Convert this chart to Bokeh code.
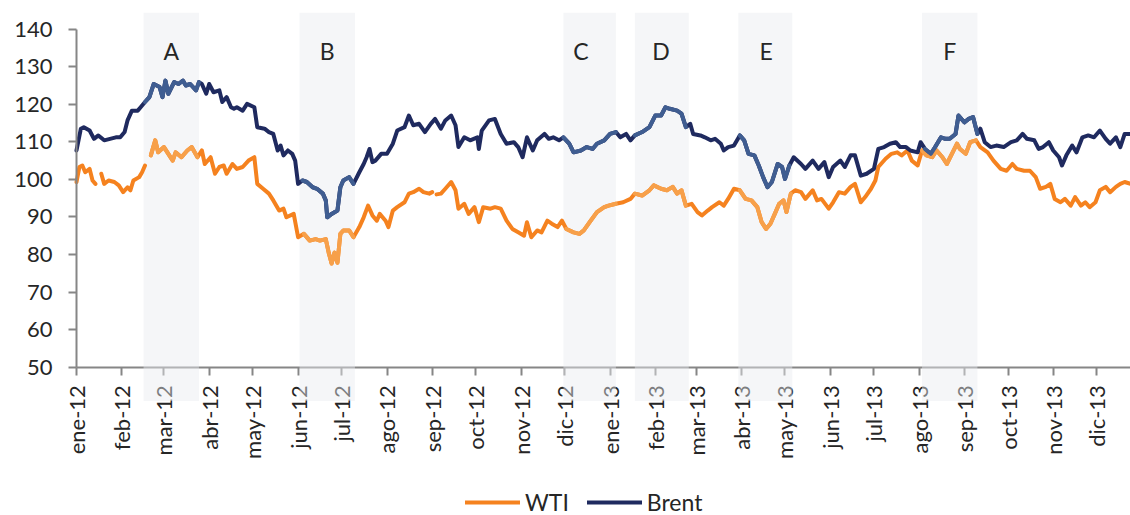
import math
import numpy as np
import pandas as pd
from bokeh.plotting import figure
from bokeh.models import (Range1d, FixedTicker, Legend, LegendItem, BoxAnnotation)
from bokeh.core.properties import value
from bokeh.embed import file_html
from bokeh.resources import INLINE

# ---------------- data ----------------
START = pd.Timestamp("2012-01-01")
END_DAY = 723  # last day shown (days after START)

# days after 2012-01-01 and WTI price (USD/bbl); nan = market holiday gap
wti_day = [
    0, 2, 4, 6, 9, 11, 13, 15, 17, 19,
    22, 26, 29, 32, 35, 37, 39, 43, 45, 47,
    49, 51, 54, 56, 60, 63, 66, 68, 72, 76,
    79, 83, 86, 88, 92, 95, 98, 101, 103, 107,
    110, 114, 118, 122, 124, 128, 132, 135, 139, 142,
    144, 149, 152, 156, 160, 164, 167, 171, 173, 175,
    177, 179, 181, 183, 187, 190, 194, 197, 200, 203,
    206, 208, 212, 214, 217, 220, 225, 228, 231, 235,
    238, 242, 244, 246, 247, 250, 253, 257, 260, 262,
    266, 269, 273, 276, 279, 284, 287, 291, 295, 299,
    303, 307, 309, 312, 316, 319, 323, 326, 330, 333,
    336, 341, 345, 348, 352, 357, 362, 365, 370, 375,
    380, 383, 388, 393, 396, 401, 405, 409, 412, 415,
    418, 422, 426, 429, 433, 436, 441, 444, 447, 451,
    455, 459, 463, 467, 470, 473, 476, 479, 482, 485,
    487, 490, 493, 497, 500, 505, 508, 511, 516, 519,
    523, 527, 531, 534, 538, 541, 545, 548, 550, 555,
    559, 563, 566, 570, 573, 577, 580, 583, 587, 590,
    594, 597, 601, 604, 606, 610, 613, 617, 620, 625,
    629, 634, 638, 642, 645, 650, 654, 658, 661, 665,
    668, 671, 675, 678, 682, 685, 689, 692, 695, 699,
    702, 706, 709, 713, 716, 719, 723,
]
nan = float("nan")
wti = [
    99.3, 103.3, 103.7, 101.9, 102.8, 99.7, 98.8, nan, 101.5, 98.8,
    99.7, 99.3, 98.4, 96.6, 97.9, 97.1, 99.7, 100.6, 101.9, 103.7,
    nan, 106.4, 110.4, 107.2, 108.6, 106.8, 105.0, 107.2, 105.9, 107.7,
    108.6, 105.9, 107.7, 104.1, 105.9, 101.5, 103.3, 103.7, 101.5, 104.1,
    102.8, 103.3, 105.0, 105.9, 98.8, 97.5, 96.2, 94.4, 91.7, 92.2,
    89.9, 90.8, 84.6, 85.5, 83.7, 84.1, 83.7, 84.1, 80.5, 77.6,
    80.5, 77.8, 85.5, 86.4, 86.4, 84.6, 87.3, 89.9, 93.0, 90.4,
    89.0, 90.8, 89.0, 87.3, 91.7, 92.6, 93.9, 96.2, 96.6, 97.5,
    96.6, 96.2, 96.6, nan, 96.0, 96.2, 97.5, 99.3, 97.1, 92.2,
    93.5, 90.8, 92.6, 88.6, 92.6, 92.2, 92.6, 92.2, 89.0, 86.8,
    85.9, 85.0, 88.6, 84.6, 86.4, 85.9, 89.0, 88.2, 87.3, 89.0,
    86.8, 85.9, 85.5, 86.4, 88.6, 91.3, 92.6, 93.0, 93.5, 93.9,
    94.8, 96.2, 95.7, 97.1, 98.4, 97.5, 97.1, 98.0, 96.2, 97.1,
    93.0, 93.5, 91.3, 90.4, 91.7, 92.6, 93.9, 93.0, 94.8, 97.5,
    97.1, 94.8, 94.4, 92.6, 88.6, 86.8, 88.2, 90.8, 93.5, 94.4,
    91.3, 96.2, 97.1, 96.6, 94.8, 97.1, 94.4, 94.8, 92.2, 93.9,
    96.6, 96.2, 98.0, 98.8, 93.9, 95.3, 97.5, 99.7, 103.3, 105.5,
    106.8, 107.2, 106.4, 107.7, 105.0, 103.7, 107.7, 106.4, 105.9, 107.7,
    105.9, 104.1, 107.2, 109.5, 108.1, 106.8, 109.9, 110.4, 108.6, 107.2,
    105.0, 102.8, 102.3, 104.1, 102.8, 102.3, 102.3, 100.6, 97.5, 98.0,
    98.8, 94.8, 93.9, 94.8, 93.0, 95.3, 93.0, 93.9, 92.6, 93.9,
    97.1, 98.0, 96.6, 98.0, 98.8, 99.3, 98.8,
]

brent_day = [
    0, 3, 5, 9, 12, 15, 19, 23, 27, 30,
    33, 35, 38, 42, 44, 47, 50, 53, 57, 59,
    61, 63, 67, 70, 73, 75, 78, 82, 84, 86,
    89, 91, 94, 98, 100, 103, 106, 108, 110, 114,
    117, 122, 124, 129, 132, 135, 138, 140, 142, 145,
    148, 150, 152, 155, 158, 162, 165, 169, 171, 172,
    175, 179, 181, 183, 187, 190, 194, 197, 199, 201,
    203, 205, 209, 213, 217, 220, 225, 228, 231, 235,
    239, 243, 246, 250, 253, 257, 260, 262, 266, 270,
    275, 276, 278, 283, 287, 291, 295, 300, 303, 306,
    309, 313, 316, 321, 324, 327, 331, 334, 338, 341,
    346, 350, 354, 357, 362, 366, 370, 373, 377, 380,
    383, 388, 393, 397, 401, 404, 407, 412, 415, 418,
    421, 423, 428, 431, 435, 438, 442, 444, 447, 451,
    455, 458, 461, 465, 468, 471, 474, 477, 481, 484,
    486, 489, 492, 497, 500, 505, 509, 513, 516, 519,
    524, 527, 531, 534, 538, 542, 547, 550, 554, 558,
    562, 565, 569, 572, 577, 579, 582, 586, 589, 593,
    596, 599, 603, 605, 609, 612, 615, 618, 620, 623,
    627, 631, 636, 641, 645, 649, 652, 657, 660, 663,
    667, 670, 674, 676, 679, 683, 686, 690, 694, 698,
    702, 706, 709, 713, 716, 719, 723,
]
brent = [
    107.7, 113.5, 113.9, 113.0, 110.8, 111.7, 110.4, 110.8, 111.2, 111.2,
    112.6, 115.7, 118.3, 118.3, 119.2, 120.6, 121.9, 125.4, 124.6, 121.9,
    126.3, 122.8, 125.9, 125.4, 126.3, 125.0, 125.4, 123.7, 125.9, 125.4,
    122.8, 125.4, 123.2, 123.7, 120.6, 121.9, 119.2, 118.8, 119.2, 118.3,
    120.1, 119.2, 113.9, 113.5, 112.6, 112.1, 107.7, 109.0, 106.4, 107.7,
    106.8, 105.0, 98.8, 99.7, 99.3, 97.9, 97.5, 96.2, 94.4, 89.9,
    90.8, 91.7, 97.9, 99.7, 100.6, 98.8, 101.9, 104.1, 105.9, 108.1,
    104.6, 105.0, 106.8, 106.8, 109.5, 113.0, 113.9, 117.0, 114.4, 114.8,
    112.6, 114.8, 116.1, 113.5, 115.7, 117.0, 114.4, 108.6, 111.2, 110.4,
    111.2, 108.1, 113.0, 115.7, 116.1, 112.1, 109.5, 109.9, 108.6, 105.9,
    111.2, 107.7, 110.4, 112.1, 110.8, 111.2, 110.4, 111.2, 109.5, 107.2,
    107.7, 108.6, 108.1, 109.5, 110.4, 112.1, 112.6, 111.2, 112.1, 110.4,
    111.7, 112.6, 113.9, 117.0, 117.0, 119.2, 118.8, 118.3, 117.5, 113.9,
    114.8, 112.1, 111.7, 111.2, 110.4, 110.8, 109.5, 107.7, 108.6, 109.0,
    111.7, 110.4, 106.8, 106.4, 103.7, 100.6, 97.9, 99.3, 104.1, 103.3,
    100.1, 103.7, 105.9, 104.1, 102.8, 105.0, 102.8, 104.6, 100.6, 103.3,
    105.0, 103.3, 106.4, 106.4, 101.0, 101.5, 102.8, 108.1, 108.6, 109.5,
    109.9, 108.6, 108.6, 107.7, 107.2, 109.9, 108.1, 106.8, 108.6, 111.2,
    110.8, 110.8, 112.1, 117.0, 115.2, 116.1, 116.6, 112.1, 113.5, 109.9,
    108.6, 109.0, 108.6, 109.9, 110.4, 112.1, 110.8, 110.4, 108.1, 108.6,
    109.9, 107.7, 105.9, 103.7, 106.4, 109.0, 107.2, 111.2, 111.7, 111.2,
    113.0, 110.8, 109.5, 111.2, 108.6, 112.1, 112.1,
]

tick_labels = ["ene-12", "feb-12", "mar-12", "abr-12", "may-12", "jun-12",
               "jul-12", "ago-12", "sep-12", "oct-12", "nov-12", "dic-12",
               "ene-13", "feb-13", "mar-13", "abr-13", "may-13", "jun-13",
               "jul-13", "ago-13", "sep-13", "oct-13", "nov-13", "dic-13"]

band_names = ["A", "B", "C", "D", "E", "F"]
band_start = ["2012-02-16", "2012-06-02", "2012-11-30",
              "2013-01-18", "2013-03-30", "2013-08-03"]
band_end = ["2012-03-25", "2012-07-10", "2013-01-05",
            "2013-02-24", "2013-05-06", "2013-09-10"]
band_label_date = ["2012-03-06", "2012-06-21", "2012-12-12",
                   "2013-02-05", "2013-04-18", "2013-08-22"]

y_ticks = list(range(50, 141, 10))

assert len(wti_day) == len(wti) and len(brent_day) == len(brent)

# ---------------- styling ----------------
WTI_C, WTI_LIGHT = "#F5821F", "#F7A04A"
BRENT_C, BRENT_LIGHT = "#1F2A5F", "#3F5D91"
BAND_C = "#F5F6F8"
TEXT_C = "#262626"
AXIS_C = "#868686"
FONT = "Lato"

Y_MIN, Y_MAX = 50, 140          # value axis extent
Y_VIEW = (10.5, 145.5)          # visible range (room below for labels/legend)
BAND_Y = (41, 144.4)            # vertical extent of the shaded periods
LEFT_PAD_DAYS = 52.13           # room left of the value axis for its labels


def to_dates(days):
    return START + pd.to_timedelta(np.asarray(days, dtype=float), unit="D")


def ms(ts):
    return int((pd.Timestamp(ts) - pd.Timestamp("1970-01-01")) / pd.Timedelta(milliseconds=1))


wti_dates = to_dates(wti_day)
brent_dates = to_dates(brent_day)
wti_v = np.asarray(wti, dtype=float)
brent_v = np.asarray(brent, dtype=float)
x_end = START + pd.Timedelta(days=END_DAY)

p = figure(width=1130, height=515, x_axis_type="datetime",
           x_range=Range1d(START - pd.Timedelta(days=LEFT_PAD_DAYS), x_end),
           y_range=Range1d(*Y_VIEW),
           output_backend="svg", toolbar_location=None, title=None,
           min_border_left=0, min_border_right=0, min_border_top=8,
           min_border_bottom=0)
p.outline_line_color = None
p.xgrid.visible = False
p.ygrid.visible = False
p.background_fill_color = "white"
p.border_fill_color = "white"

# shaded periods: solid background above the axis ...
for s, e in zip(band_start, band_end):
    p.add_layout(BoxAnnotation(left=ms(s), right=ms(e), bottom=Y_MIN, top=BAND_Y[1],
                               fill_color=BAND_C, fill_alpha=1.0,
                               line_color=None, level="underlay"))
    # ... and a translucent veil over the axis and its labels
    p.add_layout(BoxAnnotation(left=ms(s), right=ms(e), bottom=BAND_Y[0], top=Y_MIN + 0.3,
                               fill_color="#E9ECF0", fill_alpha=0.45,
                               line_color=None, level="overlay"))

# series
r_wti = p.line(wti_dates, wti_v, line_color=WTI_C, line_width=4,
               line_join="round", line_cap="round")
r_brent = p.line(brent_dates, brent_v, line_color=BRENT_C, line_width=4,
                 line_join="round", line_cap="round")

# lighter portions inside the shaded periods
for s, e in zip(band_start, band_end):
    s, e = pd.Timestamp(s), pd.Timestamp(e)
    m = (wti_dates >= s) & (wti_dates <= e)
    p.line(wti_dates[m], wti_v[m], line_color=WTI_LIGHT, line_width=4,
           line_join="round", line_cap="round")
    m = (brent_dates >= s) & (brent_dates <= e)
    p.line(brent_dates[m], brent_v[m], line_color=BRENT_LIGHT, line_width=4,
           line_join="round", line_cap="round")

# period letters
p.text(x=pd.to_datetime(band_label_date), y=[134.3] * len(band_names),
       text=band_names, text_font=value(FONT), text_font_size="23px",
       text_color=TEXT_C, text_align="center", text_baseline="alphabetic")

# axes
tick_dates = pd.date_range(START, periods=len(tick_labels), freq="MS")
xa = p.xaxis[0]
xa.fixed_location = Y_MIN
xa.bounds = (ms(START), ms(x_end))
xa.ticker = FixedTicker(ticks=[ms(d) for d in tick_dates])
xa.major_label_overrides = {ms(d): lab for d, lab in zip(tick_dates, tick_labels)}
xa.major_label_orientation = math.pi / 2
xa.major_label_standoff = 10

ya = p.yaxis[0]
ya.fixed_location = ms(START)
ya.ticker = FixedTicker(ticks=y_ticks)
ya.bounds = (Y_MIN, Y_MAX)
ya.major_label_standoff = 16

for ax in (xa, ya):
    ax.axis_line_color = AXIS_C
    ax.axis_line_width = 2
    ax.major_tick_line_color = AXIS_C
    ax.major_tick_line_width = 2
    ax.major_tick_in = 0
    ax.major_tick_out = 8
    ax.minor_tick_line_color = None
    ax.major_label_text_font = FONT
    ax.major_label_text_font_size = "22px"
    ax.major_label_text_color = TEXT_C

legend = Legend(items=[LegendItem(label="WTI", renderers=[r_wti]),
                       LegendItem(label="Brent", renderers=[r_brent])],
                location=(465, -1), orientation="horizontal",
                margin=0, padding=0, spacing=18, glyph_width=55,
                glyph_height=20, label_standoff=5,
                label_text_font=FONT, label_text_font_size="23px",
                label_text_color=TEXT_C, background_fill_alpha=0,
                border_line_alpha=0)
p.add_layout(legend)

open("out.html", "w").write(file_html(p, INLINE))
